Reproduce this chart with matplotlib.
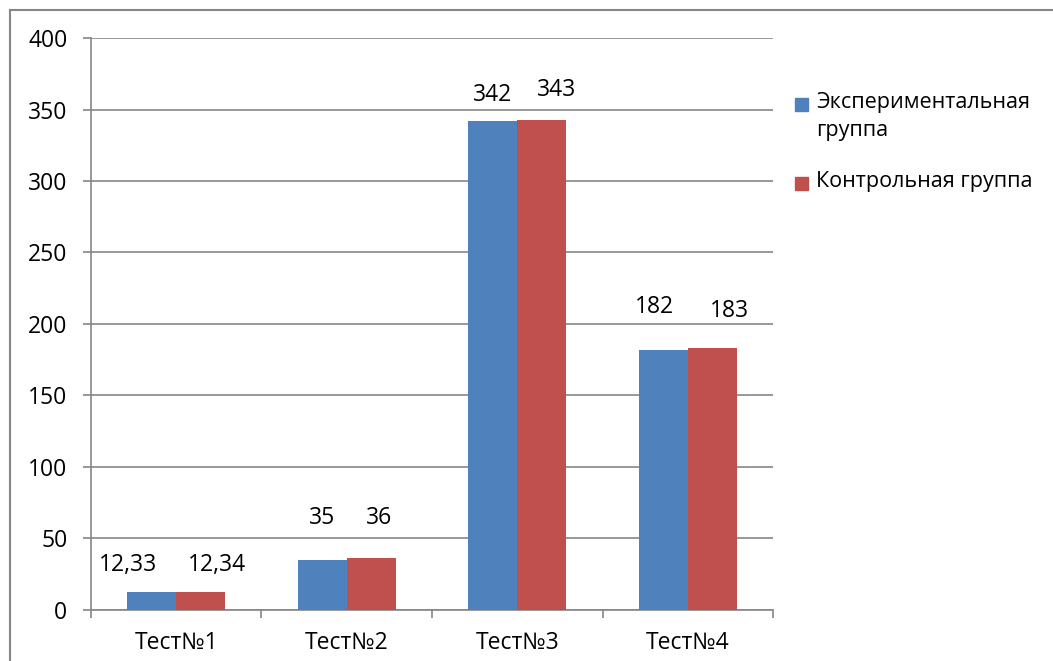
import matplotlib
matplotlib.use("Agg")
import matplotlib.pyplot as plt
from matplotlib.lines import Line2D
from matplotlib.patches import Rectangle
import numpy as np

plt.rcParams['font.family'] = ['Open Sans', 'DejaVu Sans']

# Data
categories = ["Тест№1", "Тест№2", "Тест№3", "Тест№4"]
series_names = ["Экспериментальная\nгруппа", "Контрольная группа"]
experimental = [12.33, 35, 342, 182]
control = [12.34, 36, 343, 183]
value_labels_exp = ["12,33", "35", "342", "182"]
value_labels_ctl = ["12,34", "36", "343", "183"]
y_ticks = [0, 50, 100, 150, 200, 250, 300, 350, 400]

colors = ["#4F81BD", "#C0504D"]
grid_color = "#868686"
font_size = 16.5
legend_font_size = 15.5

# Label offsets (points) relative to each bar top
offsets_exp = [(-17, 20), (0, 30.5), (0, 19), (-6, 30.5)]
offsets_ctl = [(11.5, 20), (6, 29.5), (11, 21.5), (12.5, 26.5)]

fig = plt.figure(figsize=(10.53, 6.61), dpi=100)
ax = fig.add_axes([0.0864, 0.0772, 0.6477, 0.8653])

x = np.arange(len(categories))
w = 0.287
bars_e = ax.bar(x - w / 2, experimental, width=w, color=colors[0], zorder=3)
bars_c = ax.bar(x + w / 2, control, width=w, color=colors[1], zorder=3)

for bars, labels, offs in ((bars_e, value_labels_exp, offsets_exp),
                           (bars_c, value_labels_ctl, offsets_ctl)):
    for b, lab, (dx, dy) in zip(bars, labels, offs):
        ax.annotate(lab, (b.get_x() + b.get_width() / 2, b.get_height()),
                    xytext=(dx, dy), textcoords="offset points",
                    ha="center", va="center", fontsize=font_size, color="black")

ax.set_xlim(-0.5, len(categories) - 0.5)
ax.set_ylim(0, 400)
ax.set_yticks(y_ticks)
ax.set_yticklabels([str(t) for t in y_ticks])
ax.yaxis.grid(True, color=grid_color, linewidth=1.2, zorder=0)
ax.set_axisbelow(True)

ax.set_xticks(x)
ax.set_xticklabels(categories)
ax.set_xticks(np.arange(-0.5, len(categories)), minor=True)
ax.tick_params(axis="x", which="major", length=0, pad=15, labelsize=font_size)
ax.tick_params(axis="x", which="minor", length=6, width=1.2, color=grid_color)
ax.tick_params(axis="y", length=6, width=1.2, color=grid_color, pad=11,
               labelsize=font_size)

for side in ("top", "right"):
    ax.spines[side].set_visible(False)
for side in ("left", "bottom"):
    ax.spines[side].set_color(grid_color)
    ax.spines[side].set_linewidth(1.2)

# Outer chart frame
W, H = 1053, 661
frame_kw = dict(color=grid_color, linewidth=1.5, transform=fig.transFigure)
fig.add_artist(Line2D([10 / W, 1.0], [1 - 10 / H, 1 - 10 / H], **frame_kw))
fig.add_artist(Line2D([10 / W, 10 / W], [1 - 10 / H, 0.0], **frame_kw))

# Legend
legend_rows = [104, 183]
for name, col, yc in zip(series_names, colors, legend_rows):
    fig.add_artist(Rectangle((795 / W, 1 - (yc + 7) / H), 13 / W, 13 / H,
                             color=col, transform=fig.transFigure))
    fig.text(816 / W, 1 - (yc - 12) / H, name, fontsize=legend_font_size,
             va="top", ha="left", linespacing=1.45)

fig.savefig("out.png", dpi=100)
